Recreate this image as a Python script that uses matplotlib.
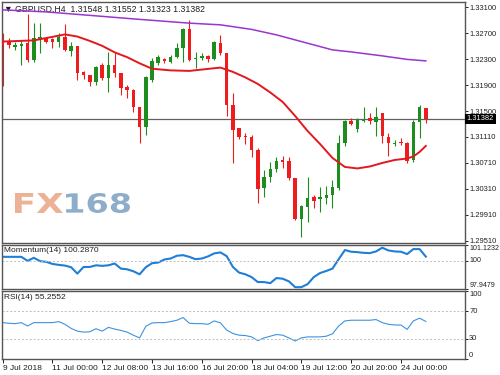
import matplotlib
matplotlib.use("Agg")
import matplotlib.pyplot as plt
import matplotlib.transforms as mtransforms
from matplotlib.textpath import TextPath
from matplotlib.patches import PathPatch
from matplotlib.font_manager import FontProperties
import numpy as np

# GBPUSD H4 candles, oldest first
opens = [1.32581, 1.32566, 1.32489, 1.32504, 1.32551, 1.32289, 1.32612, 1.32628, 1.32612, 1.32566,
         1.32643, 1.32428, 1.32504, 1.32105, 1.32059, 1.31951, 1.32212, 1.32012, 1.32212, 1.32089,
         1.31874, 1.31828, 1.31566, 1.31259, 1.31982, 1.32243, 1.32305, 1.32258, 1.32335, 1.32474,
         1.32766, 1.32305, 1.32320, 1.32351, 1.32305, 1.32551, 1.32397, 1.31597, 1.31243, 1.31120,
         1.31105, 1.30905, 1.30321, 1.30490, 1.30613, 1.30751, 1.30736, 1.30474, 1.29844, 1.30028,
         1.30182, 1.30151, 1.30167, 1.30213, 1.30321, 1.31013, 1.31351, 1.31228, 1.31351, 1.31397,
         1.31336, 1.31474, 1.31105, 1.30997, 1.31028, 1.31013, 1.30751, 1.31336, 1.31548]
highs = [1.32704, 1.32628, 1.32566, 1.32597, 1.32997, 1.32858, 1.32858, 1.32643, 1.32628, 1.32704,
         1.32843, 1.32566, 1.32504, 1.32120, 1.32059, 1.32197, 1.32243, 1.32412, 1.32397, 1.32089,
         1.31905, 1.31843, 1.31566, 1.32043, 1.32320, 1.32366, 1.32320, 1.32366, 1.32551, 1.32781,
         1.32904, 1.32412, 1.32397, 1.32366, 1.32581, 1.32674, 1.32397, 1.31782, 1.31243, 1.31167,
         1.31136, 1.30936, 1.30597, 1.30720, 1.30797, 1.30813, 1.30797, 1.30474, 1.30059, 1.30490,
         1.30213, 1.30336, 1.30351, 1.30444, 1.31136, 1.31366, 1.31397, 1.31397, 1.31566, 1.31474,
         1.31566, 1.31474, 1.31167, 1.31059, 1.31090, 1.31028, 1.31366, 1.31597, 1.31552]
lows = [1.31889, 1.32474, 1.32443, 1.32212, 1.32258, 1.32258, 1.32397, 1.32551, 1.32474, 1.32489,
        1.32428, 1.32351, 1.31982, 1.31997, 1.31889, 1.31905, 1.31982, 1.31797, 1.32028, 1.31751,
        1.31705, 1.31489, 1.31013, 1.31136, 1.31951, 1.32212, 1.32243, 1.32243, 1.32320, 1.32258,
        1.32274, 1.32166, 1.32289, 1.32258, 1.32289, 1.32366, 1.31428, 1.30705, 1.31074, 1.30997,
        1.30797, 1.30090, 1.30182, 1.30413, 1.30567, 1.30628, 1.30444, 1.29828, 1.29567, 1.29798,
        1.30013, 1.29951, 1.30075, 1.30013, 1.30290, 1.30967, 1.31290, 1.31182, 1.31336, 1.31305,
        1.31120, 1.31013, 1.30813, 1.30967, 1.30982, 1.30705, 1.30720, 1.31090, 1.31323]
closes = [1.32520, 1.32520, 1.32520, 1.32535, 1.32289, 1.32628, 1.32643, 1.32566, 1.32566, 1.32643,
          1.32443, 1.32504, 1.32089, 1.32059, 1.31951, 1.32182, 1.32012, 1.32212, 1.32089, 1.31859,
          1.31828, 1.31566, 1.31259, 1.32028, 1.32274, 1.32335, 1.32274, 1.32335, 1.32474, 1.32766,
          1.32289, 1.32320, 1.32351, 1.32305, 1.32566, 1.32397, 1.31597, 1.31213, 1.31105, 1.31105,
          1.30905, 1.30305, 1.30490, 1.30613, 1.30736, 1.30720, 1.30474, 1.29844, 1.30044, 1.30167,
          1.30121, 1.30182, 1.30213, 1.30336, 1.31013, 1.31351, 1.31305, 1.31382, 1.31366, 1.31351,
          1.31413, 1.31120, 1.31013, 1.31013, 1.31013, 1.30736, 1.31336, 1.31566, 1.31382]

# moving averages read at selected bars
fast_ma_bars = [0, 5, 8, 10, 12, 14, 16, 18, 20, 22, 24, 27, 30, 33, 35, 37, 39, 41, 43, 45,
                47, 49, 51, 53, 55, 57, 59, 61, 63, 65, 66, 67, 68]
fast_ma = [1.32571, 1.32589, 1.32643, 1.32681, 1.32648, 1.32581, 1.32505, 1.32405, 1.32331, 1.32237,
           1.32154, 1.32128, 1.32120, 1.32151, 1.32171, 1.32105, 1.32020, 1.31920, 1.31789, 1.31643,
           1.31428, 1.31197, 1.30997, 1.30782, 1.30644, 1.30621, 1.30651, 1.30705, 1.30751, 1.30774,
           1.30805, 1.30874, 1.30967]
slow_ma_bars = [0, 7, 15, 22, 30, 35, 40, 44, 48, 53, 56, 61, 65, 68]
slow_ma = [1.33058, 1.33027, 1.32966, 1.32912, 1.32854, 1.32828, 1.32758, 1.32674, 1.32571, 1.32443,
           1.32412, 1.32351, 1.32297, 1.32274]

momentum = [100.27, 100.27, 100.27, 100.27, 99.98, 100.20, 99.96, 99.91, 99.76, 99.69,
            99.64, 99.52, 99.06, 99.54, 99.54, 99.66, 99.62, 99.66, 99.79, 99.42,
            99.37, 99.23, 99.01, 99.52, 99.81, 99.86, 100.08, 100.15, 100.35, 100.39,
            100.27, 100.10, 100.15, 100.30, 100.52, 100.59, 100.32, 99.54, 99.13, 99.01,
            98.81, 98.45, 98.45, 98.37, 98.74, 98.69, 98.50, 98.08, 98.08, 98.30,
            98.81, 99.10, 99.25, 99.42, 100.10, 100.76, 100.64, 100.61, 100.56, 100.54,
            100.66, 100.93, 100.73, 100.66, 100.64, 100.47, 100.83, 100.83, 100.287]
rsi = [53.5, 52.5, 52.0, 53.5, 48.5, 53.5, 53.5, 53.5, 53.5, 55.0,
       51.0, 45.0, 41.0, 39.5, 40.0, 44.5, 41.0, 46.5, 44.0, 42.0,
       39.5, 35.0, 31.0, 48.0, 53.0, 53.5, 53.5, 55.0, 57.0, 61.0,
       52.5, 52.0, 52.0, 51.0, 56.0, 53.0, 42.5, 37.5, 35.0, 34.5,
       32.5, 27.0, 31.0, 33.5, 36.0, 35.0, 31.0, 26.5, 31.0, 32.5,
       32.5, 32.5, 33.5, 37.0, 48.5, 56.0, 57.0, 57.0, 57.0, 57.0,
       58.0, 53.5, 51.0, 50.0, 50.0, 43.5, 56.0, 60.0, 55.26]

price_ticks = [1.29510, 1.29910, 1.30310, 1.30710, 1.31110, 1.31500, 1.31900, 1.32300, 1.32700, 1.33100]
time_ticks = [0, 8, 16, 24, 32, 40, 48, 56, 64]
time_labels = ["9 Jul 2018", "11 Jul 00:00", "12 Jul 08:00", "13 Jul 16:00", "16 Jul 20:00",
               "18 Jul 04:00", "19 Jul 12:00", "20 Jul 20:00", "24 Jul 00:00"]
last_price = 1.31382

FONT = ["Liberation Sans", "DejaVu Sans"]
FS = 6
YFS = 5.4
plt.rcParams["font.family"] = FONT
plt.rcParams["font.size"] = FS

UP = "#1e8c1e"
DOWN = "#ee1c1c"
FRAME = "#555555"

fig = plt.figure(figsize=(5, 3.75), dpi=100)
ax = fig.add_axes([0.004, 0.352, 0.926, 0.643])
axm = fig.add_axes([0.004, 0.2293, 0.926, 0.1173])
axr = fig.add_axes([0.004, 0.0427, 0.926, 0.1813])

x = np.arange(len(opens))
o = np.array(opens); h = np.array(highs); l = np.array(lows); c = np.array(closes)
up = c >= o
cols = np.where(up, UP, DOWN)

# candles
ax.vlines(x, l, h, colors=cols, lw=0.8, zorder=2)
body = np.maximum(np.abs(c - o), 0.00007)
ax.bar(x, body, bottom=np.minimum(o, c), width=0.56, color=cols, linewidth=0, zorder=3)

ax.plot(fast_ma_bars, fast_ma, color="#e3181f", lw=1.4, zorder=4)
ax.plot(slow_ma_bars, slow_ma, color="#9a35d0", lw=1.1, zorder=4)
ax.axhline(last_price, color="#606060", lw=0.9, zorder=1)

ax.set_ylim(1.29475, 1.33181)
ax.set_yticks(price_ticks)
ax.set_yticklabels(["%.5f" % p for p in price_ticks])

trans = mtransforms.blended_transform_factory(ax.transAxes, ax.transData)
ax.text(1.004, last_price, "%.5f" % last_price, transform=trans, color="white", va="center",
        ha="left", fontsize=YFS, bbox=dict(fc="black", ec="none", pad=1.0), clip_on=False, zorder=6)
ax.text(0.004, 0.988, "\u25bc GBPUSD,H4  1.31548 1.31552 1.31323 1.31382", transform=ax.transAxes,
        va="top", ha="left", fontsize=6.3, color="#202020")


# watermark, stretched to the box it fills in the reference (pixels, origin bottom-left)
def box_text(s, x0, x1, y0, y1, color):
    tp = TextPath((0, 0), s, size=20, prop=FontProperties(family="DejaVu Sans", weight="bold"))
    e = tp.get_extents()
    tr = (mtransforms.Affine2D().translate(-e.x0, -e.y0)
          .scale((x1 - x0) / e.width, (y1 - y0) / e.height).translate(x0, y0))
    fig.patches.append(PathPatch(tr.transform_path(tp), fc=color, ec="none",
                                 transform=mtransforms.IdentityTransform(), zorder=1))


box_text("FX", 15, 63, 162, 182, "#ecb296")
box_text("168", 66, 130, 162, 182, "#8eadca")

# momentum panel
axm.plot(x, momentum, color="#1f7fd6", lw=1.5)
axm.axhline(100, color="#bdbdbd", lw=0.7, ls=(0, (2, 2)))
axm.set_ylim(97.9479, 101.1232)
axm.set_yticks([97.9479, 100, 101.1232])
axm.set_yticklabels(["97.9479", "100", "101.1232"])
axm.text(0.004, 0.95, "Momentum(14) 100.2870", transform=axm.transAxes, va="top", ha="left",
         fontsize=FS, color="#202020")

# RSI panel
axr.plot(x, rsi, color="#3d93e0", lw=0.8)
for lev in (30, 70):
    axr.axhline(lev, color="#bdbdbd", lw=0.7, ls=(0, (2, 2)))
axr.set_ylim(0, 100)
axr.set_yticks([0, 30, 70, 100])
axr.set_yticklabels(["0", "30", "70", "100"])
axr.text(0.004, 0.95, "RSI(14) 55.2552", transform=axr.transAxes, va="top", ha="left",
         fontsize=FS, color="#202020")

for a in (ax, axm, axr):
    a.set_xlim(-0.11, 74.3)
    a.yaxis.tick_right()
    a.tick_params(axis="y", direction="out", length=2, width=0.7, pad=1,
                  labelsize=YFS, colors="#202020")
    for s in a.spines.values():
        s.set_color(FRAME)
        s.set_linewidth(1.0)

for t, va in zip(axm.yaxis.get_major_ticks(), ["bottom", "center", "top"]):
    t.label2.set_va(va)
    t.label2.set_fontsize(5.1)
for t, va in zip(axr.yaxis.get_major_ticks(), ["bottom", "center", "center", "top"]):
    t.label2.set_va(va)

ax.set_xticks([])
axm.set_xticks([])
axr.set_xticks(time_ticks)
axr.set_xticklabels(time_labels, ha="left")
axr.tick_params(axis="x", direction="out", length=3, width=0.7, pad=1, labelsize=FS,
                colors="#202020")

fig.savefig("out.png", dpi=100, facecolor="white")
